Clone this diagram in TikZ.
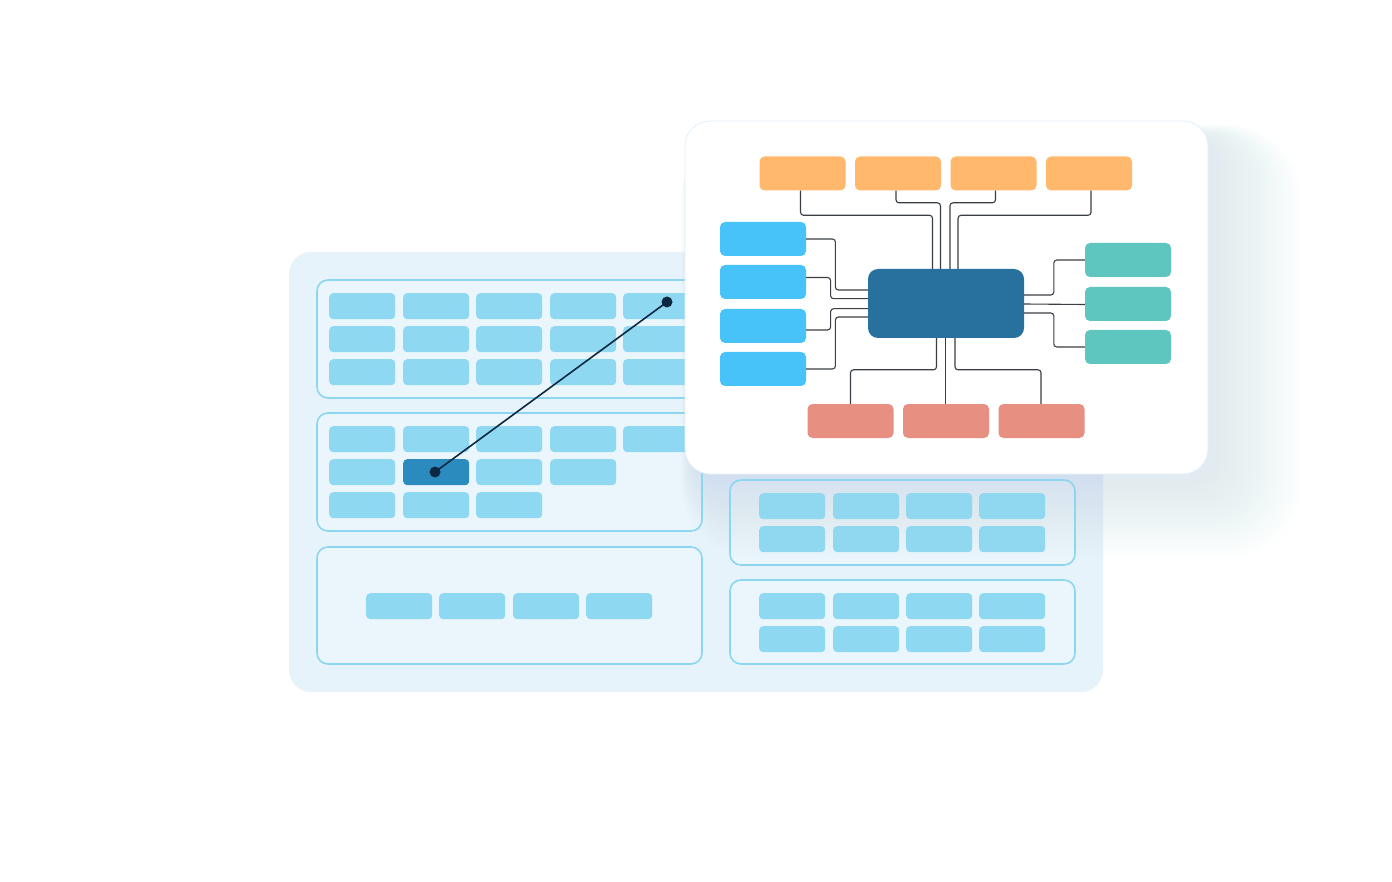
\documentclass[tikz,border=0pt]{standalone}
\usetikzlibrary{calc}
\definecolor{panelbg}{HTML}{E6F3FB}
\definecolor{framefill}{HTML}{EAF6FC}
\definecolor{framedraw}{HTML}{8DD6F1}
\definecolor{cellc}{HTML}{8FD8F2}
\definecolor{darkcell}{HTML}{2B8BBF}
\definecolor{linkc}{HTML}{0C2843}
\definecolor{orangec}{HTML}{FFB86C}
\definecolor{bluec}{HTML}{47C3F9}
\definecolor{tealc}{HTML}{5FC6BF}
\definecolor{redc}{HTML}{E78F81}
\definecolor{centerc}{HTML}{28709E}
\definecolor{connc}{HTML}{3A3F45}
\definecolor{shadowc}{HTML}{B9D8F0}
\tikzset{
  cellbox/.style={fill=cellc, draw=none, rounded corners=4pt, inner sep=0pt, minimum width=66pt, minimum height=26pt, anchor=north west},
  framebox/.style={fill=framefill, draw=framedraw, line width=1.6pt, rounded corners=11pt},
  mmnode/.style={draw=none, rounded corners=5pt, inner sep=0pt, minimum width=86pt, minimum height=34pt},
  conn/.style={draw=connc, line width=1.1pt, rounded corners=3pt},
  link/.style={draw=linkc, line width=1.6pt},
  dot/.style={circle, fill=linkc, inner sep=0pt, minimum size=11pt},
}
\begin{document}
\begin{tikzpicture}[x=1pt,y=-1pt]
\useasboundingbox (0,0) rectangle (1392,882);
\fill[white] (0,0) rectangle (1392,882);
% back panel
\fill[panelbg, rounded corners=22pt] (289,252) rectangle (1103,692);
% frames
\draw[framebox] (317,280) rectangle (702,398);
\draw[framebox] (317,413) rectangle (702,531);
\draw[framebox] (317,547) rectangle (702,664);
\draw[framebox] (730,480) rectangle (1075,565);
\draw[framebox] (730,580) rectangle (1075,664);
% frame A cells
\foreach \r/\y in {1/293,2/326,3/359}{
  \foreach \c/\x in {1/329,2/403,3/476,4/550,5/623}{
    \node[cellbox] (a\r\c) at (\x,\y) {};
  }
}
% frame B cells
\foreach \c/\x in {1/329,2/403,3/476,4/550,5/623}{ \node[cellbox] (b1\c) at (\x,426) {}; }
\node[cellbox] (b21) at (329,459) {};
\node[cellbox, fill=darkcell] (b22) at (403,459) {};
\node[cellbox] (b23) at (476,459) {};
\node[cellbox] (b24) at (550,459) {};
\foreach \c/\x in {1/329,2/403,3/476}{ \node[cellbox] (b3\c) at (\x,492) {}; }
% frame C cells
\foreach \c/\x in {1/366,2/439,3/513,4/586}{ \node[cellbox] (c\c) at (\x,593) {}; }
% frame D and E cells
\foreach \c/\x in {1/759,2/833,3/906,4/979}{
  \node[cellbox] (d1\c) at (\x,493) {};
  \node[cellbox] (d2\c) at (\x,526) {};
  \node[cellbox] (e1\c) at (\x,593) {};
  \node[cellbox] (e2\c) at (\x,626) {};
}
% card shadow
\foreach \i in {1,...,20}{
  \fill[shadowc, opacity=0.02, rounded corners={25pt+\i*2.5pt}]
    ($(685,121)+(8-\i*0.6,16-\i*0.6)$) rectangle ($(1208,474)+(4+\i*4.5,4+\i*4)$);
}
% link
\coordinate (ptop) at (667,302);
\coordinate (pbot) at (435,472);
\draw[link] (pbot) -- (ptop);
\node[dot] (dtop) at (ptop) {};
\node[dot] (dbot) at (pbot) {};
% card
\fill[white, rounded corners=25pt] (685,121) rectangle (1208,474);
\draw[shadowc!40, line width=0.8pt, rounded corners=25pt] (685,121) rectangle (1208,474);
% mind map nodes
\node[mmnode, fill=centerc, minimum width=156pt, minimum height=69pt, rounded corners=10pt] (ctr) at (946,303.5) {};
\node[mmnode, fill=orangec] (o1) at (802.5,173.5) {};
\node[mmnode, fill=orangec] (o2) at (898,173.5) {};
\node[mmnode, fill=orangec] (o3) at (993.5,173.5) {};
\node[mmnode, fill=orangec] (o4) at (1089,173.5) {};
\node[mmnode, fill=bluec] (l1) at (763,239) {};
\node[mmnode, fill=bluec] (l2) at (763,282) {};
\node[mmnode, fill=bluec] (l3) at (763,326) {};
\node[mmnode, fill=bluec] (l4) at (763,369) {};
\node[mmnode, fill=tealc] (t1) at (1128,260) {};
\node[mmnode, fill=tealc] (t2) at (1128,304) {};
\node[mmnode, fill=tealc] (t3) at (1128,347) {};
\node[mmnode, fill=redc] (r1) at (850.5,421) {};
\node[mmnode, fill=redc] (r2) at (946,421) {};
\node[mmnode, fill=redc] (r3) at (1041.5,421) {};
% top connectors
\draw[conn] ($(o1.south)+(-2,0)$) |- ($(ctr.north)+(-13.5,-53.5)$) -- ($(ctr.north)+(-13.5,0)$);
\draw[conn] ($(o2.south)+(-2,0)$) |- ($(ctr.north)+(-5.5,-66)$) -- ($(ctr.north)+(-5.5,0)$);
\draw[conn] ($(o3.south)+(2,0)$) |- ($(ctr.north)+(4,-66)$) -- ($(ctr.north)+(4,0)$);
\draw[conn] ($(o4.south)+(2,0)$) |- ($(ctr.north)+(12,-53.5)$) -- ($(ctr.north)+(12,0)$);
% left connectors
\draw[conn] (l1.east) -| ($(ctr.west)+(-32.4,-13.5)$) -- ($(ctr.west)+(0,-13.5)$);
\draw[conn] ($(l2.east)+(0,-4.5)$) -| ($(ctr.west)+(-37.2,-4.8)$) -- ($(ctr.west)+(0,-4.8)$);
\draw[conn] ($(l3.east)+(0,4)$) -| ($(ctr.west)+(-37.2,5.2)$) -- ($(ctr.west)+(0,5.2)$);
\draw[conn] (l4.east) -| ($(ctr.west)+(-32.4,13.5)$) -- ($(ctr.west)+(0,13.5)$);
% right connectors
\draw[conn] ($(ctr.east)+(0,-8.5)$) -| ($(t1.west)+(-31,0)$) -- (t1.west);
\draw[conn] ($(ctr.east)+(0,0.5)$) -- ($(t2.west)+(0,0.5)$);
\draw[conn] ($(ctr.east)+(0,9.5)$) -| ($(t3.west)+(-31,0)$) -- (t3.west);
% bottom connectors
\draw[conn] ($(ctr.south)+(-9.5,0)$) |- ($(r1.north)+(0,-34)$) -- (r1.north);
\draw[conn] ($(ctr.south)+(-0.5,0)$) -- ($(r2.north)+(-0.5,0)$);
\draw[conn] ($(ctr.south)+(9,0)$) |- ($(r3.north)+(-0.5,-34)$) -- ($(r3.north)+(-0.5,0)$);
\end{tikzpicture}
\end{document}
